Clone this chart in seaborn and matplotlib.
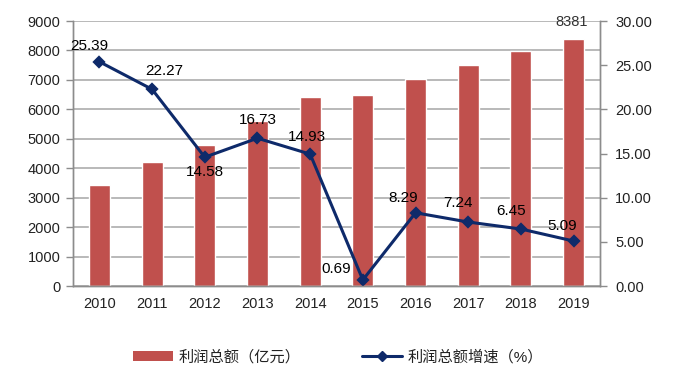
import matplotlib
matplotlib.use("Agg")
import matplotlib.pyplot as plt
import seaborn as sns
import pandas as pd
from matplotlib.lines import Line2D
from matplotlib.patches import Patch

years = ["2010", "2011", "2012", "2013", "2014", "2015", "2016", "2017", "2018", "2019"]
profit = [3430, 4200, 4790, 5600, 6420, 6470, 7020, 7510, 7970, 8381]
growth = [25.39, 22.27, 14.58, 16.73, 14.93, 0.69, 8.29, 7.24, 6.45, 5.09]
growth_labels = ["25.39", "22.27", "14.58", "16.73", "14.93", "0.69", "8.29", "7.24", "6.45", "5.09"]
bar_label = "8381"
legend_bar = "利润总额（亿元）"
legend_line = "利润总额增速（%）"

sns.set_theme(style="white")
plt.rcParams["font.family"] = ["Liberation Sans", "Noto Sans CJK SC", "DejaVu Sans"]

bar_color = "#c0504d"
line_color = "#0e2a6a"
grid_color = "#b3b3b3"
spine_color = "#8c8c8c"
text_color = "#222222"

df = pd.DataFrame({"year": years, "profit": profit, "growth": growth})

fig = plt.figure(figsize=(6.82, 3.87), dpi=100)
ax = fig.add_axes([73/682, 1-286/387, (600-73)/682, (286-21)/387])

sns.barplot(data=df, x="year", y="profit", color=bar_color, width=0.4,
            saturation=1, ax=ax, zorder=2)
ax.set_ylim(0, 9000)
ax.set_yticks(range(0, 9001, 1000))
ax.set_xlim(-0.5, 9.5)
ax.set_xlabel("")
ax.set_ylabel("")
fig.canvas.draw()

ax2 = ax.twinx()
sns.pointplot(data=df, x="year", y="growth", color=line_color, markers="D",
              linestyles="-", ax=ax2, markersize=5.5, linewidth=2.2)
fig.canvas.draw()
ax2.set_ylim(0, 30)
ax2.set_yticks(range(0, 31, 5))
ax2.set_yticklabels([f"{v:.2f}" for v in range(0, 31, 5)])
ax2.set_xlim(-0.5, 9.5)

# x ticks: labels at centers, tick marks between categories
ax.set_xticks(range(len(years)))
ax.set_xticklabels(years)
ax.set_xticks([i - 0.5 for i in range(len(years) + 1)], minor=True)
ax.tick_params(axis="x", which="major", length=0, pad=8, labelsize=10.5, labelcolor=text_color)
ax.tick_params(axis="x", which="minor", length=5, width=1, color=spine_color, direction="out")
ax.tick_params(axis="y", length=5, width=1, color=spine_color, direction="out",
               labelsize=10.5, labelcolor=text_color, pad=4)
fig.canvas.draw()
ax.grid(True, axis="y", which="major", color=grid_color, linewidth=1.3)
fig.canvas.draw()

ax2.set_ylabel("")
ax2.set_xlabel("")
ax2.tick_params(axis="y", length=5, width=1, color=spine_color, direction="out",
                labelsize=10.5, labelcolor=text_color, pad=6)

for a in (ax, ax2):
    a.spines["top"].set_visible(False)
    for s in ("left", "right", "bottom"):
        a.spines[s].set_color(spine_color)
        a.spines[s].set_linewidth(1)

ax.set_zorder(0)
ax2.set_zorder(1)
ax2.patch.set_visible(False)
ax.patch.set_visible(True)

# data labels for growth line
offsets = [(-10, 16), (12, 18), (0, -15), (0, 18), (-3, 17),
           (-27, 11), (-12, 15), (-10, 19), (-10, 18), (-11, 15)]
for i, (v, lab, off) in enumerate(zip(growth, growth_labels, offsets)):
    ax2.annotate(lab, xy=(i, v), xytext=off, textcoords="offset pixels",
                 ha="center", va="center", fontsize=11, color="black")

ax.annotate(bar_label, xy=(9, profit[-1]), xytext=(-2, 17), textcoords="offset pixels",
            ha="center", va="center", fontsize=10.5, color="#333333", zorder=5)

handles = [Patch(facecolor=bar_color, edgecolor="none"),
           Line2D([0], [0], color=line_color, lw=2.2, marker="D", markersize=5)]
fig.legend(handles, [legend_bar, legend_line], loc="center", bbox_to_anchor=(338/682, 1-357/387),
           ncol=2, frameon=False, fontsize=11, handlelength=2.6, columnspacing=4,
           handletextpad=0.4, labelcolor=text_color)

fig.canvas.draw()
fig.savefig("out.png", dpi=100)
